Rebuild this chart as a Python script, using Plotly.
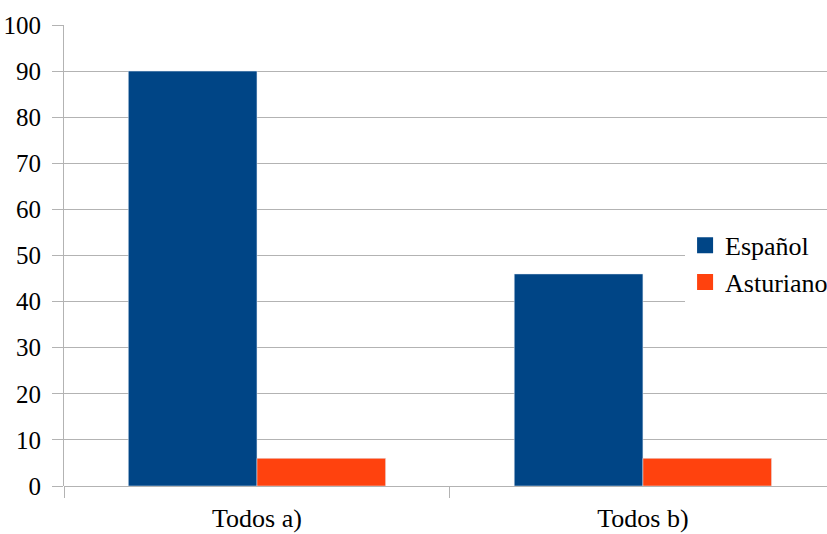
import plotly.graph_objects as go

categories = ["Todos a)", "Todos b)"]
espanol = [90, 46]
asturiano = [6, 6]
series_names = ["Español", "Asturiano"]
colors = ["#004586", "#ff420e"]

fig = go.Figure()
for name, vals, col in zip(series_names, [espanol, asturiano], colors):
    fig.add_trace(go.Bar(x=categories, y=vals, name=name, showlegend=False,
                         marker=dict(color=col)))
for name, col in zip(series_names, colors):
    fig.add_trace(go.Scatter(x=[None], y=[None], mode="markers", name=name,
                             marker=dict(symbol="square", size=16, color=col)))

grid = "#b3b3b3"
serif = "serif"
fig.update_layout(
    width=827, height=534,
    margin=dict(l=64, r=0, t=25, b=47.5, autoexpand=False),
    paper_bgcolor="white", plot_bgcolor="white",
    barmode="group", bargap=0.3333, bargroupgap=0,
    font=dict(family=serif, size=26),
    legend=dict(x=0.814, y=0.482, xanchor="left", yanchor="middle",
                bgcolor="white", font=dict(family=serif, size=26),
                itemwidth=30),
    showlegend=True,
)
fig.update_xaxes(type="category", range=[-0.5, 1.477], tickson="boundaries",
                 ticks="outside", ticklen=11, tickcolor=grid, tickwidth=1,
                 showline=False, showgrid=False, zeroline=False, automargin=False,
                 ticklabelstandoff=14,
                 tickfont=dict(family=serif, size=26))
fig.update_yaxes(range=[0, 100], dtick=10, ticks="outside", ticklen=11, tickcolor=grid,
                 showgrid=True, gridcolor=grid, gridwidth=1, zeroline=True, zerolinecolor=grid,
                 zerolinewidth=1, showline=True, linecolor=grid, linewidth=1, automargin=False,
                 ticklabelstandoff=6,
                 tickfont=dict(family=serif, size=25))
post = """
document.body.style.margin='0';
document.querySelectorAll('svg text').forEach(function(t){
  t.style.fill = '#000000';
  t.setAttribute('font-family', 'Liberation Serif');
  t.style.fontFamily = 'Liberation Serif';
});
"""
fig.write_html("out.html", config={"displayModeBar": False}, post_script=post)
